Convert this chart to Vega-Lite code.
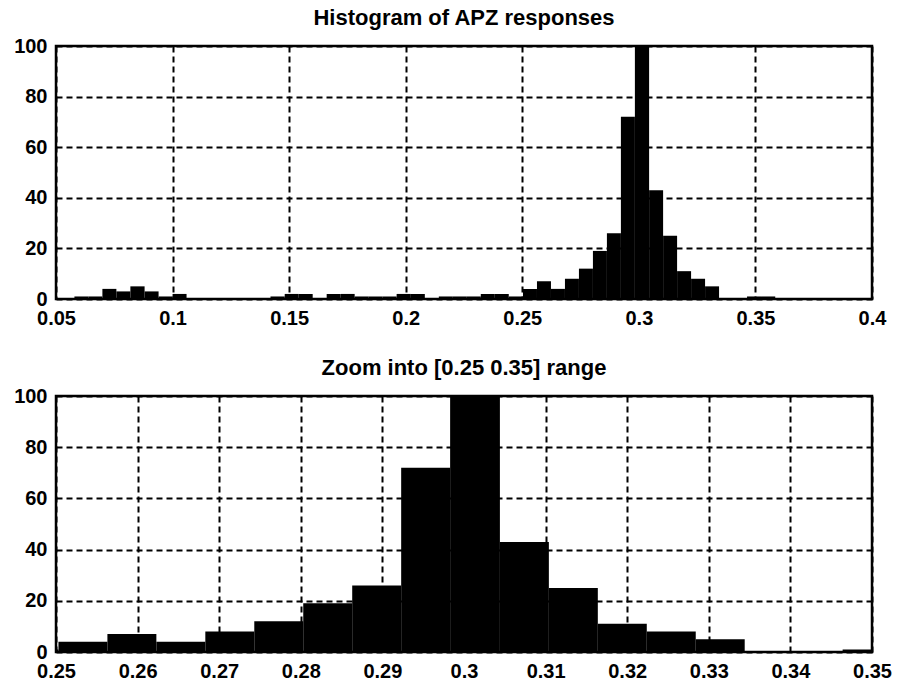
{
  "$schema": "https://vega.github.io/schema/vega-lite/v6.json",
  "padding": {"left": 12, "top": 5, "right": 5, "bottom": 3},
  "background": "white",
  "spacing": 25,
  "datasets": {
    "hist": [
      {"lo": 0.0579, "hi": 0.0639, "n": 1},
      {"lo": 0.0639, "hi": 0.0699, "n": 1},
      {"lo": 0.0699, "hi": 0.0759, "n": 4},
      {"lo": 0.0759, "hi": 0.0819, "n": 3},
      {"lo": 0.0819, "hi": 0.0880, "n": 5},
      {"lo": 0.0880, "hi": 0.0940, "n": 3},
      {"lo": 0.0940, "hi": 0.1000, "n": 1},
      {"lo": 0.1000, "hi": 0.1060, "n": 2},
      {"lo": 0.1060, "hi": 0.1120, "n": 0},
      {"lo": 0.1120, "hi": 0.1180, "n": 0},
      {"lo": 0.1180, "hi": 0.1240, "n": 0},
      {"lo": 0.1240, "hi": 0.1300, "n": 0},
      {"lo": 0.1300, "hi": 0.1360, "n": 0},
      {"lo": 0.1360, "hi": 0.1420, "n": 0},
      {"lo": 0.1420, "hi": 0.1481, "n": 1},
      {"lo": 0.1481, "hi": 0.1541, "n": 2},
      {"lo": 0.1541, "hi": 0.1601, "n": 2},
      {"lo": 0.1601, "hi": 0.1661, "n": 0},
      {"lo": 0.1661, "hi": 0.1721, "n": 2},
      {"lo": 0.1721, "hi": 0.1781, "n": 2},
      {"lo": 0.1781, "hi": 0.1841, "n": 1},
      {"lo": 0.1841, "hi": 0.1901, "n": 1},
      {"lo": 0.1901, "hi": 0.1961, "n": 1},
      {"lo": 0.1961, "hi": 0.2022, "n": 2},
      {"lo": 0.2022, "hi": 0.2082, "n": 2},
      {"lo": 0.2082, "hi": 0.2142, "n": 0},
      {"lo": 0.2142, "hi": 0.2202, "n": 1},
      {"lo": 0.2202, "hi": 0.2262, "n": 1},
      {"lo": 0.2262, "hi": 0.2322, "n": 1},
      {"lo": 0.2322, "hi": 0.2382, "n": 2},
      {"lo": 0.2382, "hi": 0.2442, "n": 2},
      {"lo": 0.2442, "hi": 0.2503, "n": 1},
      {"lo": 0.2503, "hi": 0.2563, "n": 4},
      {"lo": 0.2563, "hi": 0.2623, "n": 7},
      {"lo": 0.2623, "hi": 0.2683, "n": 4},
      {"lo": 0.2683, "hi": 0.2743, "n": 8},
      {"lo": 0.2743, "hi": 0.2803, "n": 12},
      {"lo": 0.2803, "hi": 0.2863, "n": 19},
      {"lo": 0.2863, "hi": 0.2923, "n": 26},
      {"lo": 0.2923, "hi": 0.2983, "n": 72},
      {"lo": 0.2983, "hi": 0.3044, "n": 100},
      {"lo": 0.3044, "hi": 0.3104, "n": 43},
      {"lo": 0.3104, "hi": 0.3164, "n": 25},
      {"lo": 0.3164, "hi": 0.3224, "n": 11},
      {"lo": 0.3224, "hi": 0.3284, "n": 8},
      {"lo": 0.3284, "hi": 0.3344, "n": 5},
      {"lo": 0.3344, "hi": 0.3404, "n": 0},
      {"lo": 0.3404, "hi": 0.3464, "n": 0},
      {"lo": 0.3464, "hi": 0.3524, "n": 1},
      {"lo": 0.3524, "hi": 0.3585, "n": 1}
    ]
  },
  "config": {
    "font": "Liberation Sans",
    "view": {"stroke": "black", "strokeWidth": 2.5, "fill": "white"},
    "title": {"fontSize": 22, "fontWeight": "bold", "color": "black", "baseline": "alphabetic", "offset": 6, "anchor": "middle"},
    "axis": {
      "domain": false,
      "ticks": false,
      "labelFontSize": 20,
      "labelFontWeight": "bold",
      "labelColor": "black",
      "labelPadding": 9,
      "labelFlush": false,
      "labelOverlap": false,
      "grid": true,
      "gridColor": "black",
      "gridDash": [6, 4],
      "gridWidth": 2,
      "gridOpacity": 1,
      "title": null
    }
  },
  "vconcat": [
    {
      "title": "Histogram of APZ responses",
      "width": 816,
      "height": 253,
      "data": {"name": "hist"},
      "mark": {"type": "rect", "color": "black", "clip": true},
      "encoding": {
        "x": {
          "field": "lo",
          "type": "quantitative",
          "scale": {"domain": [0.05, 0.4], "nice": false, "zero": false},
          "axis": {"values": [0.05, 0.1, 0.15, 0.2, 0.25, 0.3, 0.35, 0.4], "format": "~g"}
        },
        "x2": {"field": "hi"},
        "y": {
          "field": "n",
          "type": "quantitative",
          "scale": {"domain": [0, 100], "nice": false},
          "axis": {"values": [0, 20, 40, 60, 80, 100]}
        },
        "y2": {"datum": 0}
      }
    },
    {
      "title": "Zoom into [0.25 0.35] range",
      "width": 816,
      "height": 256,
      "data": {"name": "hist"},
      "mark": {"type": "rect", "color": "black", "clip": true},
      "encoding": {
        "x": {
          "field": "lo",
          "type": "quantitative",
          "scale": {"domain": [0.25, 0.35], "nice": false, "zero": false},
          "axis": {"values": [0.25, 0.26, 0.27, 0.28, 0.29, 0.3, 0.31, 0.32, 0.33, 0.34, 0.35], "format": "~g"}
        },
        "x2": {"field": "hi"},
        "y": {
          "field": "n",
          "type": "quantitative",
          "scale": {"domain": [0, 100], "nice": false},
          "axis": {"values": [0, 20, 40, 60, 80, 100]}
        },
        "y2": {"datum": 0}
      }
    }
  ]
}
